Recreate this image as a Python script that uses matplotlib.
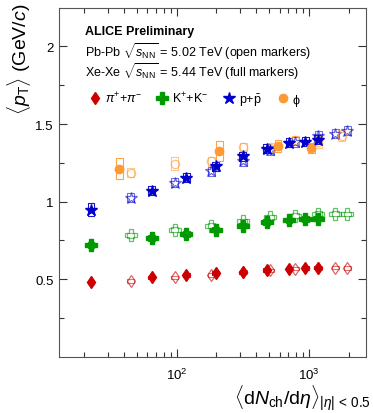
import numpy as np
import matplotlib
matplotlib.use("Agg")
import matplotlib.pyplot as plt
from matplotlib.patches import Rectangle
from matplotlib.collections import PatchCollection

plt.rcParams['font.family'] = ['Liberation Sans', 'DejaVu Sans']
plt.rcParams['mathtext.fontset'] = 'custom'
plt.rcParams['mathtext.rm'] = 'Liberation Sans'
plt.rcParams['mathtext.it'] = 'Liberation Sans:italic'
plt.rcParams['mathtext.bf'] = 'Liberation Sans:bold'

# multiplicity per centrality class
pbpb_mult = [1943, 1587, 1180, 786, 512, 318, 183, 96.3, 44.9]
xexe_mult = [1167, 939, 706, 478, 315, 198, 118, 64.7, 22.5]
pbpb_phi_mult = [1765, 1180, 786, 512, 318, 183, 96.3, 44.9]
xexe_phi_mult = [1042, 584, 210, 36.7]

# <pT> values (GeV/c)
pi_pbpb = [0.570, 0.575, 0.573, 0.568, 0.556, 0.545, 0.526, 0.511, 0.490]
pi_xexe = [0.575, 0.570, 0.568, 0.560, 0.543, 0.539, 0.526, 0.511, 0.479]
k_pbpb = [0.920, 0.922, 0.922, 0.909, 0.899, 0.873, 0.844, 0.819, 0.784]
k_xexe = [0.890, 0.888, 0.879, 0.869, 0.845, 0.819, 0.792, 0.766, 0.720]
p_pbpb = [1.458, 1.437, 1.426, 1.385, 1.330, 1.262, 1.196, 1.122, 1.026]
p_xexe = [1.400, 1.387, 1.379, 1.341, 1.292, 1.228, 1.154, 1.071, 0.947]
phi_pbpb = [1.426, 1.383, 1.394, 1.345, 1.352, 1.260, 1.245, 1.186]
phi_xexe = [1.345, 1.358, 1.326, 1.213]

# systematic uncertainties (half height of boxes)
pi_pbpb_sys = [0.012] * 9
pi_xexe_sys = [0.012] * 9
k_pbpb_sys = [0.016] * 9
k_xexe_sys = [0.018] * 9
p_pbpb_sys = [0.03] * 9
p_xexe_sys = [0.03, 0.03, 0.03, 0.03, 0.03, 0.03, 0.03, 0.03, 0.043]
phi_pbpb_sys = [0.035, 0.04, 0.03, 0.03, 0.027, 0.03, 0.04, 0.03]
phi_xexe_sys = [0.035, 0.04, 0.064, 0.068]

red = '#cc0000'
green = '#009900'
blue = '#0000cc'
orange = '#ff9933'


def sys_boxes(ax, x, y, s, color, alpha):
    f = 10 ** 0.026
    rects = [Rectangle((xi / f, yi - si), xi * f - xi / f, 2 * si)
             for xi, yi, si in zip(x, y, s)]
    pc = PatchCollection(rects, facecolor='none', edgecolor=color, lw=0.8, alpha=alpha)
    ax.add_collection(pc)


fig = plt.figure(figsize=(3.73, 4.14), dpi=100)
ax = fig.add_axes([0.1595, 0.136, 0.8217, 0.843])

series = [
    (pbpb_mult, pi_pbpb, pi_pbpb_sys, red, 'd', 6.5, False),
    (xexe_mult, pi_xexe, pi_xexe_sys, red, 'd', 6.5, True),
    (pbpb_mult, k_pbpb, k_pbpb_sys, green, 'P', 8, False),
    (xexe_mult, k_xexe, k_xexe_sys, green, 'P', 8, True),
    (pbpb_mult, p_pbpb, p_pbpb_sys, blue, '*', 9, False),
    (xexe_mult, p_xexe, p_xexe_sys, blue, '*', 9, True),
    (pbpb_phi_mult, phi_pbpb, phi_pbpb_sys, orange, 'o', 6, False),
    (xexe_phi_mult, phi_xexe, phi_xexe_sys, orange, 'o', 6, True),
]

handles = []
for x, y, s, c, m, ms, full in series:
    if full:
        sys_boxes(ax, x, y, s, c, 0.9)
        h, = ax.plot(x, y, ls='none', marker=m, ms=ms, color=c, mec=c, zorder=4)
        handles.append(h)
    else:
        sys_boxes(ax, x, y, s, c, 0.55)
        ax.plot(x, y, ls='none', marker=m, ms=ms, mfc='none', mec=c, mew=0.9,
                alpha=0.6, zorder=3)

ax.set_xscale('log')
ax.set_xlim(13, 2700)
ax.set_ylim(0, 2.25)
ax.set_yticks([0.5, 1, 1.5, 2])
ax.set_yticklabels(['0.5', '1', '1.5', '2'])
ax.set_yticks([0.25, 0.75, 1.25, 1.75], minor=True)
ax.tick_params(which='both', direction='in', top=True, right=True, labelsize=9.5,
               color='#333333')
ax.tick_params(which='major', length=6, width=0.8, pad=4)
ax.tick_params(which='minor', length=3.5, width=0.8)
ax.tick_params(axis='x', which='major', pad=7)
for sp in ax.spines.values():
    sp.set_color('#555555')
    sp.set_linewidth(0.8)

ax.text(0.083, 0.924, 'ALICE Preliminary', transform=ax.transAxes,
        fontsize=9, fontweight='bold', va='baseline')
ax.text(0.083, 0.862, r'Pb-Pb $\sqrt{s_{\rm NN}}$ = 5.02 TeV (open markers)',
        transform=ax.transAxes, fontsize=9, va='baseline')
ax.text(0.083, 0.803, r'Xe-Xe $\sqrt{s_{\rm NN}}$ = 5.44 TeV (full markers)',
        transform=ax.transAxes, fontsize=9, va='baseline')

labels = [r'$\pi^{+}$+$\pi^{-}$', r'K$^{+}$+K$^{-}$', r'p+$\bar{\rm p}$', 'ϕ']
ax.legend(handles, labels, ncol=4, loc='center left', bbox_to_anchor=(0.096, 0.738),
          frameon=False, fontsize=9, handlelength=0.9, handletextpad=0.35,
          columnspacing=1.2, borderpad=0, borderaxespad=0)

fig.text(19 / 373, 1 - 4 / 414, r'$\langle p_{\rm T} \rangle$ (GeV/$c$)', rotation=90,
         ha='center', va='top', fontsize=14)
fig.text(371 / 373, 9 / 414,
         r'$\langle {\rm d}N_{\rm ch}/{\rm d}\eta \rangle_{|\eta|\,<\,0.5}$',
         ha='right', va='baseline', fontsize=14)

fig.savefig('out.png', dpi=100)
